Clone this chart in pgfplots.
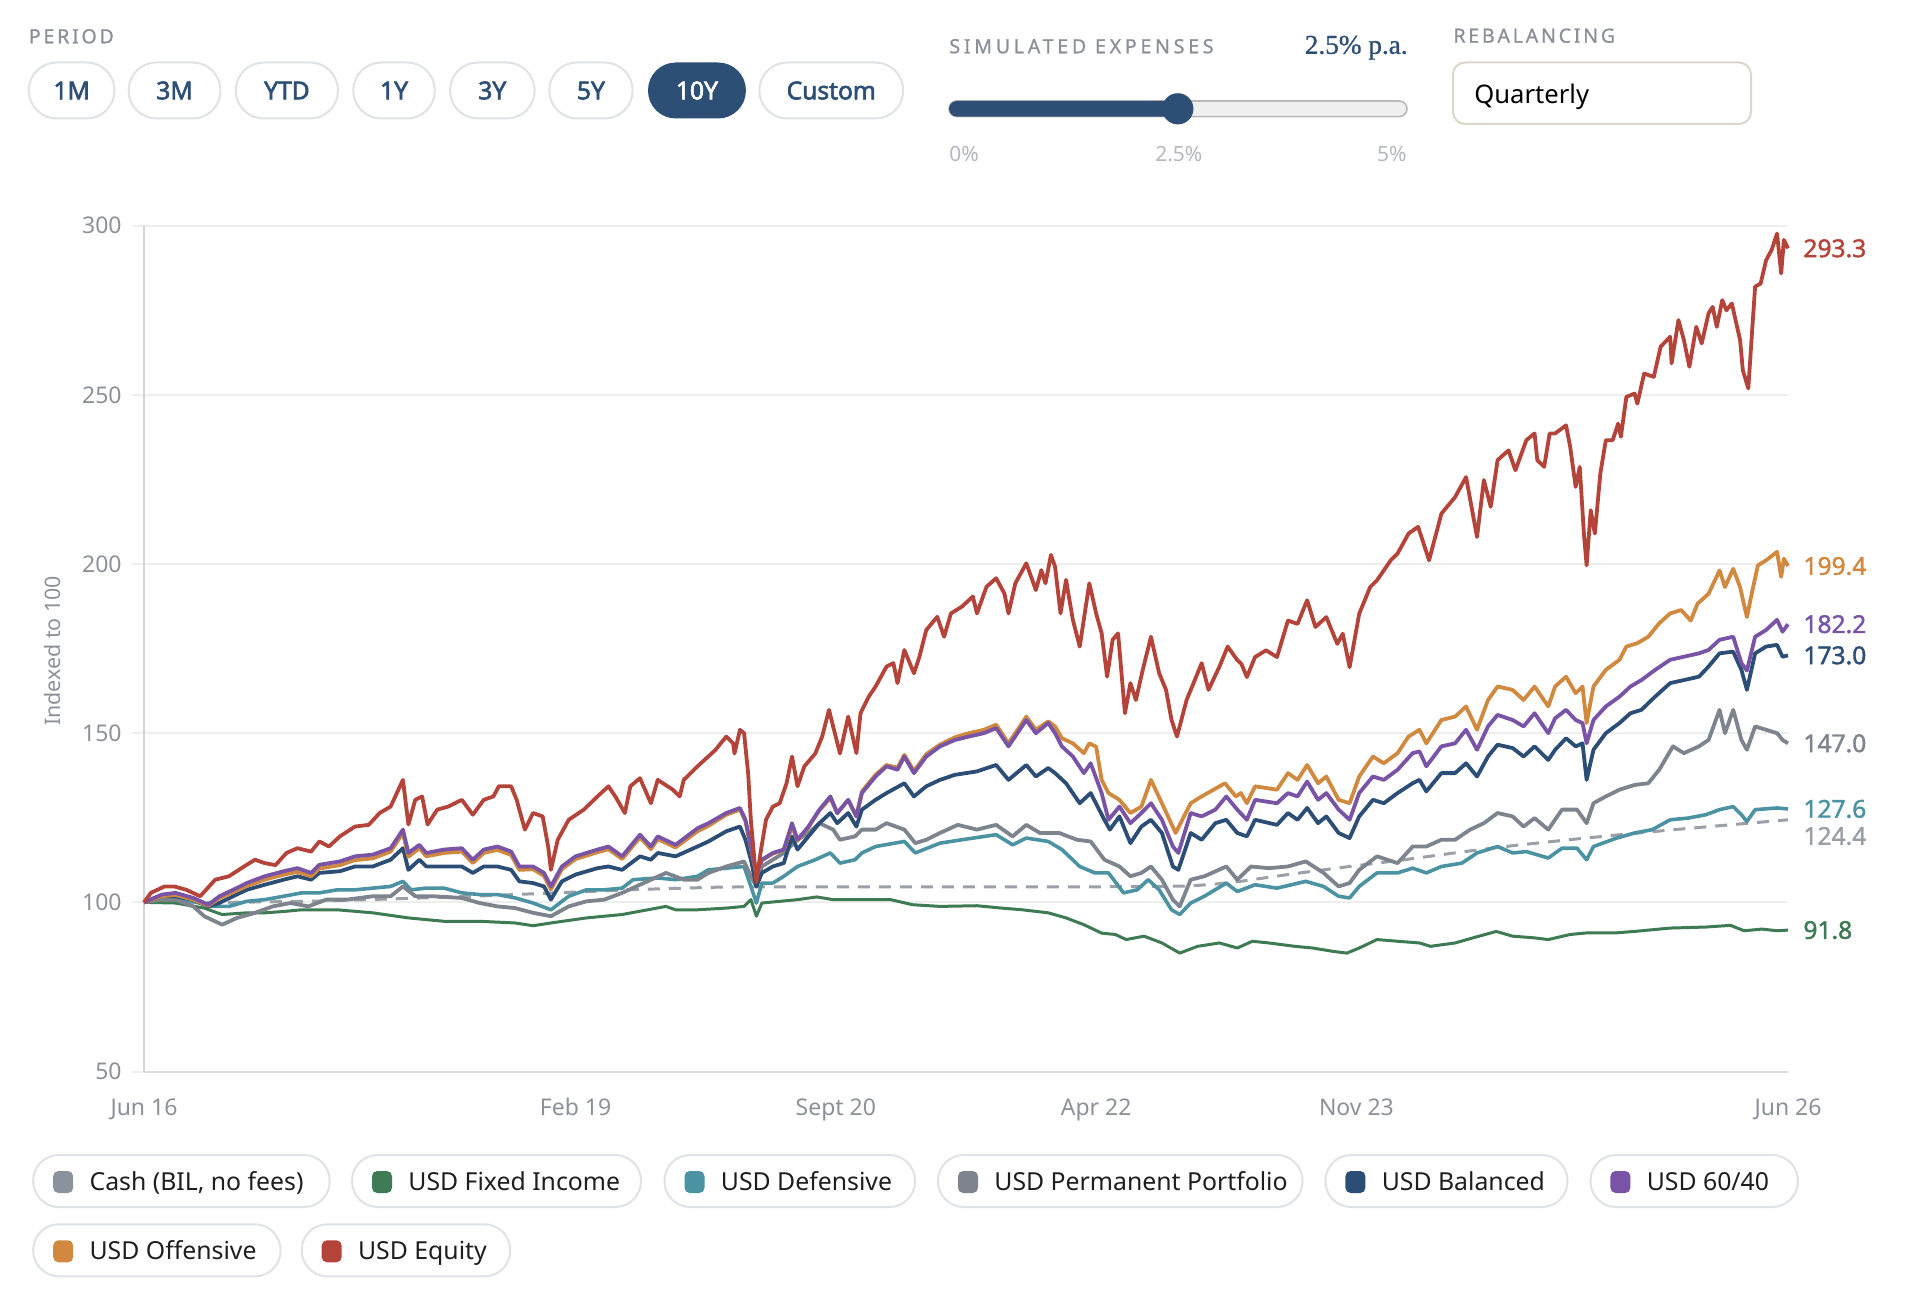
\documentclass[border=0pt]{standalone}
\usepackage{fontspec}
\setmainfont{Noto Sans}
\newfontfamily\capsfont[LetterSpace=14, FakeBold=0.8]{Noto Sans}
\newfontfamily\capsfontwide[LetterSpace=19, FakeBold=0.8]{Noto Sans}
\newfontfamily\btnfont[FakeBold=2.4]{Noto Sans}
\newfontfamily\valfont[FakeBold=1.6]{Noto Sans}
\newfontfamily\seriffont[FakeBold=1]{Liberation Serif}
\usepackage{pgfplots}
\usepackage{pgfplotstable}
\pgfplotsset{compat=1.18}

% series colours
\definecolor{cEq}{HTML}{B4433A}
\definecolor{cOff}{HTML}{D0893F}
\definecolor{cSixty}{HTML}{7954A6}
\definecolor{cBal}{HTML}{2B4D76}
\definecolor{cPerm}{HTML}{7E848E}
\definecolor{cDef}{HTML}{4B92A2}
\definecolor{cFix}{HTML}{3E7A53}
\definecolor{cCash}{HTML}{9A9FA8}
\definecolor{cCashKey}{HTML}{8C929C}
% interface colours
\definecolor{navyui}{HTML}{2D4F76}
\definecolor{labelgray}{HTML}{8A8F98}
\definecolor{tickgray}{HTML}{8C9199}
\definecolor{lightlabel}{HTML}{B4B8BE}
\definecolor{pillborder}{HTML}{DFE2E7}
\definecolor{gridgray}{HTML}{EEEEEE}
\definecolor{axisgray}{HTML}{DCDCDC}
\definecolor{boxborder}{HTML}{DAD6CA}
\definecolor{trackfill}{HTML}{EFEFEF}
\definecolor{trackedge}{HTML}{B9B9B9}
\definecolor{keytext}{HTML}{1E1E1E}

% x = months since June 2016, v = value indexed to 100
\pgfplotstableread{
m v
0 100
0.5 102.8
1.5 104.7
2.2 104.7
3.1 103.7
4.1 101.8
5.2 106.7
6.2 107.7
7.3 110.6
8.1 112.6
8.8 111.6
9.6 111
10.4 114.6
11.2 116
12.2 115
12.8 118
13.5 116.5
14.3 119.5
15.4 122.4
16.4 122.9
17.2 126.4
18 128.3
18.9 136.2
19.3 123
19.8 130.3
20.3 131.3
20.7 123
21.4 127.4
22.2 128.3
23.2 130.3
24 125.9
24.8 130.3
25.5 131.3
25.9 134.3
26.8 134.3
27.2 130.3
27.8 121.5
28.4 126.4
29.1 125.4
29.5 116.5
29.7 109.6
30.2 118.5
31 124.4
32.1 127.4
33.1 131.3
33.9 134.3
34.4 131.3
35.1 126.4
35.5 134.3
36.2 136.7
37 129.3
37.5 136.2
38.6 133.3
39.1 131.3
39.4 136.2
40.4 140.2
41.7 145
42.5 149
43 147
43.1 144
43.5 151
43.8 150
44.1 138
44.3 124
44.7 106
45 114.6
45.4 124.4
45.9 128.3
46.4 129.3
46.9 135.2
47.3 143.1
47.7 134.3
48.2 140.2
49 144
49.5 149
50 156.9
50.3 152
50.8 144
51.4 154.9
52 144.1
52.3 155.9
52.9 160.8
53.4 163.8
54.2 169.7
54.7 170.7
55 164.8
55.5 174.6
56.2 167.7
56.6 172.6
57.1 180.5
57.9 184.4
58.4 178.5
58.9 185.4
59.7 187.4
60.5 190.4
60.8 185.4
61.5 193.3
62.2 195.8
62.8 191.3
63.1 185.4
63.6 194.3
64.4 200.2
65.1 192.3
65.5 198.2
65.8 194.3
66.2 202.7
66.5 199.2
66.9 185.4
67.3 195.3
67.8 183.5
68.3 175.6
69 194.3
69.5 185.4
69.9 179.5
70.3 166.7
70.7 177.6
71.1 179.5
71.6 155.9
72 164.8
72.4 159.8
72.9 168.7
73.5 178.5
74.1 167.7
74.6 162.8
75 153.9
75.4 149
76.1 159.8
76.7 165.7
77.2 170.7
77.7 162.8
78.5 169.7
79.1 175.6
79.8 171.6
80.1 170.5
80.5 166.6
81.1 172.5
81.9 174.5
82.7 172.5
83.5 183.3
84.2 182.3
84.9 189.3
85.5 181.4
86.3 184.3
87.1 176.4
87.5 179.4
88 169.5
88.7 185.3
89.5 193.2
90 195.2
91 201.1
91.5 203.1
92.3 209
93 211
93.8 201.1
94.7 214.9
95.7 219.8
96.5 225.7
97.3 208
97.8 224.8
98.3 216.9
98.8 230.7
99.6 233.6
100.1 227.7
100.9 236.6
101.5 238.6
101.7 230.7
102.2 228.7
102.6 238.6
103 238.6
103.8 241
104.1 234.6
104.5 222.8
104.8 228.7
105.1 209
105.3 199.6
105.6 215.9
105.9 209
106.3 226.7
106.7 236.6
107.2 236.6
107.6 241.5
107.8 237.6
108.2 249.4
108.8 250.4
109 247.4
109.5 256.3
110.2 255.3
110.7 264.2
111.4 267.2
111.5 259.3
112 272.1
112.4 266.2
112.8 258.3
113.3 270.1
113.7 265.2
114.2 274.1
114.5 276
114.8 270.1
115.2 278
115.5 275
115.9 277
116.5 266.2
116.7 257.3
117.1 251.9
117.4 270.1
117.6 282
118 282.9
118.4 289.8
118.8 292.8
119.2 297.7
119.5 285.9
119.7 295.8
120 293.3
}\tEquity

\pgfplotstableread{
m v
0 100
1.3 101.8
2.3 102.2
3.6 100.8
4.7 99
5.5 101.2
6.5 103
7.5 104.8
8.8 106.7
10.2 108.2
11.2 109
12.2 107.7
12.8 110
14.3 111
15.4 112.5
16.7 113
18 115
18.9 120.5
19.3 113.5
20.1 116
20.6 113.6
21.9 114.6
23.2 115
24 111.6
24.8 114.6
25.8 115.5
26.8 114
27.4 109.6
28.4 109.8
29.2 107.8
29.7 103.8
30.5 109.8
31.5 112.8
33.1 114.8
33.9 115.7
34.9 112.8
36.2 119.2
37 115.7
37.5 118.7
38.8 116.2
40.4 121
41.2 122.6
42.5 125.9
43.5 127.4
43.9 124
44.3 116
44.7 108.5
45.1 112.4
45.9 114.4
46.7 115.5
47.3 122.4
47.7 118.3
48.5 122.2
49.3 127.2
50.1 130.8
50.6 126.3
51.4 130.2
52 125.5
52.4 132.8
53.4 137.7
54.2 140.6
55 139.8
55.5 143.6
56.2 138.8
57.1 143.8
58.1 146.6
59.2 148.8
60.2 150
61.3 151
62.2 152.5
63.1 147
64.4 154.9
65.1 151
66 153.5
66.5 152
67 148.5
67.8 147
68.6 144.1
69 147
69.5 146
69.9 136.2
70.4 132.3
71.2 130.3
72 126.4
72.8 128.3
73.5 136.2
74.3 129.3
75.3 120.5
76.4 129.3
77.2 131.3
78.9 135.2
79.7 131.3
80.06 132.3
80.5 129.3
81.1 134.3
82.7 133.3
83.5 138.2
84.2 136.2
84.9 140.6
85.7 135.2
86.3 137.2
87.2 130.3
88 129.3
88.7 137.2
89.7 143.1
90.5 141.1
91.5 144.1
92.3 149
93.1 151
93.6 147
94.7 153.9
95.7 154.9
96.5 157.9
97.3 151
98.1 159.8
98.8 163.8
99.9 162.8
100.7 159.8
101.5 163.8
102.5 157.9
103 163.8
103.8 166.7
104.5 161.8
105 163.8
105.3 153
105.8 163.8
106.7 168.7
107.7 171.7
108.2 175.6
109 176.6
109.8 178.5
110.6 182.5
111.4 185.4
112.2 186.4
112.9 183.3
113.4 188.3
114.2 191.2
115 198.1
115.4 193.2
116 198.6
116.5 193.2
117 184.3
117.4 192.2
117.8 199.6
118.4 201.1
119.2 203.6
119.5 196.2
119.7 201.6
120 199.4
}\tOffensive

\pgfplotstableread{
m v
0 100
1.3 102.3
2.3 102.8
3.6 101.3
4.7 99.3
5.5 101.8
6.5 103.7
7.5 105.7
8.8 107.7
10.2 109.2
11.2 110.1
12.2 108.7
12.8 111.1
14.3 112.1
15.4 113.6
16.7 114.1
18 116
18.9 121.5
19.3 114.6
20.1 117
20.6 114.6
21.9 115.6
23.2 116
24 112.6
24.8 115.6
25.8 116.5
26.8 115
27.4 110.6
28.4 110.6
29.2 108.7
29.7 104.7
30.5 110.6
31.5 113.6
33.1 115.6
33.9 116.5
34.9 113.6
36.2 120
37 116.5
37.5 119.5
38.8 117
40.4 121.9
41.2 123.4
42.5 126.4
43.5 127.9
43.9 124.4
44.3 116.5
44.7 108.7
45.1 112.6
45.9 114.6
46.7 115.6
47.3 123.4
47.7 118.5
48.5 122.4
49.3 127.4
50.1 131.3
50.6 126.4
51.4 130.3
52 125.4
52.4 132.3
53.4 137.2
54.2 140.2
55 139.2
55.5 143.1
56.2 138.2
57.1 143.1
58.1 146.1
59.2 148
60.2 149
61.3 150
62.2 151.5
63.1 146.1
64.4 153.9
65.1 150
66 153
66.5 150
67 146.1
67.8 143.1
68.6 138.2
69.1 141.1
69.9 132.3
70.4 124.4
71.2 128.3
72 123.4
72.8 126.4
73.5 129.3
74.3 124.4
75.1 116.5
75.5 114.6
76.4 126.4
77.2 125.4
78.2 127.4
79 131.3
79.8 127.4
80.5 124.4
81.1 130.3
82.7 129.3
83.5 132.3
84.2 131.3
84.9 135.7
85.7 130.3
86.3 132.3
87.2 127.4
88 124.4
88.7 132.3
89.7 137.2
90.5 136.2
91.5 139.2
92.6 144.1
93.1 144.6
93.6 140.2
94.7 146.1
95.7 147
96.5 151
97.3 145.1
98.1 152
98.8 155.4
99.9 153.9
100.7 152
101.5 155.9
102.5 150
103 154.4
103.8 156.9
104.5 153.9
105 153
105.3 147
105.8 153.9
106.7 157.9
107.7 160.8
108.5 163.8
109.3 165.7
110.3 168.7
111.4 171.7
112.4 172.6
113.5 173.6
114.2 174.6
115 177.6
116 178.5
116.6 170.7
117 168.5
117.6 178.5
118.4 180.5
119.2 183.5
119.6 180
120 182.2
}\tSixty

\pgfplotstableread{
m v
0 100
1.3 101.8
2.3 101.8
3.6 100.8
4.7 98.8
5.5 99.8
6.5 101.8
7.5 103.7
8.8 105.2
10.2 106.7
11.2 107.7
12.2 106.7
12.8 108.7
14.3 109.2
15.4 110.6
16.7 110.6
18 112.6
18.9 116
19.3 109.6
20.1 112.6
20.6 110.6
21.9 110.6
23.2 110.6
24 108.7
24.8 110.6
25.8 110.6
26.8 109.6
27.4 106.2
28.4 105.7
29.2 104.7
29.7 100.8
30.5 106.2
31.5 108.2
33.1 110.1
33.9 110.6
34.9 109.6
36.2 113.6
37 112.6
37.5 114.6
38.8 113.6
40.4 116.5
41.2 118
42.5 121
43.5 122.4
43.9 118.5
44.3 112.6
44.7 104.7
45.1 108.7
45.9 110.6
46.7 111.6
47.3 119.5
47.7 115.6
48.5 119.5
49.3 123.4
50.1 126.4
50.6 123.4
51.4 126.4
52 122.4
52.4 127.4
53.4 130.3
54.2 132.3
55.5 135.2
56.2 131.3
57.1 134.3
58.1 136.2
59.2 137.7
60.8 138.7
62.2 140.6
63.1 136.2
64.4 140.6
65.1 137.2
66 139.7
66.5 138.2
67.3 135.2
68.3 129.3
69.1 132.3
70.1 124.4
70.5 121.5
71.2 125.4
72 117.5
72.8 122.4
73.5 124.4
74.3 120.5
75.1 110.6
75.5 109.6
76.4 120.5
77.2 118.5
78.2 123.4
79 124.4
79.8 120.5
80.5 119.5
81.1 124.4
82.7 122.9
83.5 126.4
84.2 124.4
84.9 127.9
85.7 123.4
86.3 125.4
87.2 120.5
88 119
88.7 125.4
89.7 130.3
90.5 129.3
91.5 132.3
92.6 135.2
93.1 136.2
93.6 132.8
94.7 138.2
95.7 138.2
96.5 141.1
97.3 137.2
98.1 143.1
98.8 146.6
99.9 145.6
100.7 143.1
101.5 146.1
102.5 142.1
103 145.1
103.8 148.5
104.5 146.1
105 147
105.3 136.2
105.8 145.1
106.7 150
107.7 153
108.5 155.9
109.3 156.9
110.3 160.8
111.4 164.8
112.4 165.7
113.5 166.7
114.2 169.7
115 173.6
116 174.1
116.6 168.7
117 162.8
117.6 173.6
118.4 175.6
119.2 176.1
119.6 172.6
120 173
}\tBalanced

\pgfplotstableread{
m v
0 100
1.3 100.8
2.3 100.8
3.6 98.8
4.4 95.9
5.7 93.4
6.8 95.4
8.1 96.9
9.4 98.8
10.7 99.8
12 98.8
13.3 100.8
14.8 100.8
16.7 101.8
18 101.8
18.9 104.7
19.8 101.8
21.1 101.8
23.2 101.3
24.5 99.8
25.8 98.8
27.1 98.3
28.4 96.9
29.7 95.9
31 98.8
32.3 100.3
33.6 100.8
34.9 102.8
36.2 105.2
38.1 108.7
39.4 106.7
40.4 106.7
41.2 108.7
42.5 110.6
43.8 112.1
44.3 107.7
44.7 104.7
45.1 110.6
45.9 112.6
46.7 114.6
47.7 118.5
48.5 120.5
49.3 123.4
50.3 121.5
50.8 118.5
51.9 119.5
52.4 121.5
53.4 121.5
54.2 123.4
55.5 121.5
56.3 117.5
57.1 118.5
58.1 120.5
59.4 122.9
60.8 121.5
62.2 122.9
63.4 119.5
64.4 122.9
65.4 120.5
66.8 120.5
68.1 118.5
69.1 118
70.1 112.6
71.2 110.6
72 107.7
72.8 108.7
73.5 110.6
74.3 106.7
75.1 100.8
75.6 98.8
76.4 106.7
77.4 107.7
79 110.6
79.8 106.7
80.8 110.6
82.1 110.1
83.5 110.6
84.8 112.1
86.1 108.7
87.2 104.7
88 105.7
88.7 109.6
90 113.6
91.5 111.6
92.6 116.5
93.6 116.5
94.7 118.5
95.7 118.5
96.8 121.5
97.8 123.4
98.8 126.4
99.9 125.4
100.7 122.4
101.5 124.9
102.5 121.5
103.5 127.4
104.6 127.4
105.3 123.4
105.8 129.3
106.7 131.3
107.7 133.3
108.8 134.7
109.8 135.2
110.6 139.2
111.6 146.1
112.4 144.1
113.5 146.1
114.2 148
115 156.9
115.4 150
116 156.9
116.6 148
117 145.1
117.6 152
118.4 151
119.2 150
119.6 148
120 147
}\tPermanent

\pgfplotstableread{
m v
0 100
1.3 101.3
2.3 101.3
3.6 100.3
4.9 98.8
6.2 98.8
7.5 100.3
8.8 100.8
10.2 101.8
11.5 102.8
12.8 102.8
14.1 103.7
15.4 103.7
16.7 104.2
18 104.7
18.9 106.2
19.5 103.7
20.6 104.2
21.9 104.2
23.2 102.8
24.5 102.3
25.8 102.3
27.1 101.3
28.4 99.8
29.7 97.8
31 101.8
32.3 103.7
33.6 103.7
34.9 104.2
35.7 106.7
37.5 107.2
38.8 106.7
40.4 107.7
41.2 109.6
42.5 110.1
43.8 110.6
44.3 104.7
44.7 99.8
45.1 105.7
45.9 105.7
46.7 107.7
47.7 110.6
49 112.6
50.1 114.6
50.8 111.6
51.9 112.6
52.4 114.6
53.4 116.5
55.5 118
56.3 114.6
58.1 117.5
59.7 118.5
62.2 120
63.4 117
64.4 119
66 118
67 115.6
68.3 110.6
69.4 108.7
70.4 108.7
71.5 102.8
72.5 103.7
73.3 106.7
74.1 103.7
75 97.8
75.6 96.4
76.4 99.8
77.4 101.8
79 105.7
79.8 103.2
81.1 105.2
82.7 104.2
84.8 106.2
86.1 104.7
87.2 101.8
88 101.3
88.7 104.7
90 108.7
91.5 108.7
92.6 110.1
93.6 108.7
94.7 110.6
96.2 111.6
97.3 114.6
98.8 116.5
99.9 114.6
100.9 115
102.5 113.1
103.5 116
104.6 116
105.3 112.6
105.8 116.5
107.5 119
108.8 120.5
110.1 121.5
111.4 124.4
112.7 124.9
114 125.9
115 127.4
116 128.3
116.6 125.9
117 123.9
117.6 127.4
119.2 127.9
120 127.6
}\tDefensive

\pgfplotstableread{
m v
0 100
2.3 99.8
4.4 98.3
5.7 96.4
7.5 96.9
8.8 96.9
10.2 97.3
11.5 97.8
14.1 97.8
16.7 96.9
19.3 95.4
21.9 94.4
24.5 94.4
27.1 93.9
28.4 93.1
29.7 93.9
32.3 95.4
34.9 96.4
38.1 98.8
38.8 97.8
40.4 97.8
42.5 98.3
43.8 98.8
44.3 100.8
44.7 95.9
45.1 99.8
46.4 100.3
47.7 100.8
49.1 101.6
50.3 100.8
52.9 100.8
54.5 100.8
56.1 99.3
58.1 98.8
60.8 99
62.6 98.3
64.1 97.8
66 96.9
67.3 95.4
68.6 93.4
69.9 90.9
70.9 90.5
71.7 89
73 90
74.3 88
75.6 85
76.9 87
78.5 88
79.8 86.5
80.9 88.5
82.1 88
84 87
85.3 86.5
86.8 85.5
87.8 85
88.7 86.5
90 89
91.5 88.5
93.1 88
93.9 87
95.7 88
97 89.5
98.7 91.4
99.9 90
101.5 89.5
102.5 89
104.1 90.5
105.4 91
107.5 91
108.8 91.4
111.4 92.4
114 92.7
115.8 93.2
116.8 91.6
118.1 92.1
119.2 91.6
120 91.8
}\tFixed

\pgfplotstableread{
m v
0 100
6 100
12 100.3
18 101
24 101.8
30 102.8
36 103.8
42 104.5
45 104.6
60 104.6
70 104.6
76 104.8
78 105.3
80 106.2
84 108.5
88 110.6
92 112.6
96 114.8
100 116.8
104 118.5
108 120.1
112 121.6
116 123
120 124.4
}\tCash

% interface helpers (pixel-like units inside the overlay scope)
\newcommand{\btn}[3]{%
  \draw[pillborder, line width=1pt, fill=white, rounded corners=13.9pt] (#1,62.5) rectangle (#2,118.5);
  \node[anchor=base, inner sep=0pt, font=\btnfont\fontsize{12.3}{14}\selectfont, text=navyui] at ({(#1+#2)/2},99.3) {#3};}
\newcommand{\keypill}[5]{%
  \draw[pillborder, line width=1pt, fill=white, rounded corners=12.8pt] (#1,#3) rectangle (#2,#3+52);
  \fill[#4, rounded corners=2.6pt] (#1+20,#3+16) rectangle (#1+40,#3+38);
  \node[anchor=base west, inner sep=0pt, font=\fontsize{12.4}{14}\selectfont, text=keytext] at (#1+56,#3+35.5) {#5};}

\begin{document}
\begin{tikzpicture}
\path[use as bounding box] (0,0) rectangle (963pt,657pt);

\begin{axis}[
  at={(72pt,121.25pt)}, anchor=south west,
  scale only axis, width=822pt, height=422.9pt,
  xmin=0, xmax=120, ymin=50, ymax=300,
  clip=false,
  axis x line*=bottom, axis y line*=left,
  x axis line style={draw=axisgray, line width=1pt, -},
  y axis line style={draw=gridgray!90!black!100, line width=1pt, -},
  ytick={50,100,150,200,250,300},
  xtick={0,31.5,50.5,69.5,88.5,120},
  xticklabels={Jun 16, Feb 19, Sept 20, Apr 22, Nov 23, Jun 26},
  ymajorgrids, grid style={draw=gridgray, line width=1pt},
  tick align=outside, major tick length=6pt,
  ytick style={draw=gridgray, line width=1pt},
  xtick style={draw=none},
  /pgf/number format/assume math mode=true,
  yticklabel style={font=\fontsize{11.5}{13}\selectfont, text=tickgray, anchor=east, inner sep=0pt, xshift=-5pt},
  xticklabel style={font=\fontsize{11.5}{13}\selectfont, text=tickgray, anchor=base, inner sep=0pt, yshift=-15.9pt},
]
\addplot[cCash, line width=1.5pt, dash pattern=on 6pt off 4.5pt] table[x=m,y=v] {\tCash};
\addplot[cFix, line width=1.5pt, line join=round] table[x=m,y=v] {\tFixed};
\addplot[cDef, line width=1.8pt, line join=round] table[x=m,y=v] {\tDefensive};
\addplot[cPerm, line width=1.9pt, line join=round] table[x=m,y=v] {\tPermanent};
\addplot[cBal, line width=1.9pt, line join=round] table[x=m,y=v] {\tBalanced};
\addplot[cOff, line width=1.9pt, line join=round] table[x=m,y=v] {\tOffensive};
\addplot[cSixty, line width=1.9pt, line join=round] table[x=m,y=v] {\tSixty};
\addplot[cEq, line width=1.9pt, line join=round] table[x=m,y=v] {\tEquity};

% closing values
\begin{scope}[every node/.style={anchor=west, inner sep=0pt, xshift=7.5pt, font=\valfont\fontsize{12.3}{14}\selectfont}]
\node[text=cEq] at (axis cs:120,293.3) {293.3};
\node[text=cOff] at (axis cs:120,199.4) {199.4};
\node[text=cSixty] at (axis cs:120,182.2) {182.2};
\node[text=cBal] at (axis cs:120,173.0) {173.0};
\node[text=cPerm] at (axis cs:120,147.0) {147.0};
\node[text=cDef] at (axis cs:120,127.6) {127.6};
\node[text=cCash] at (axis cs:120,119.6) {124.4};
\node[text=cFix] at (axis cs:120,91.8) {91.8};
\end{scope}
\end{axis}

\begin{scope}[yshift=657pt, x=0.5pt, y=-0.5pt]
% axis title
\node[rotate=90, inner sep=0pt, font=\fontsize{10.7}{12}\selectfont, text=tickgray] at (52.8,651) {Indexed to 100};

% period selector
\node[anchor=base west, inner sep=0pt, font=\capsfont\fontsize{9.8}{12}\selectfont, text=labelgray] at (28.5,43.3) {PERIOD};
\btn{28.8}{114.5}{1M}
\btn{128.6}{220.5}{3M}
\btn{235.8}{338}{YTD}
\btn{353.3}{434.8}{1Y}
\btn{450}{534.6}{3Y}
\btn{549.3}{632.6}{5Y}
\fill[navyui, rounded corners=13.9pt] (648,62.5) rectangle (745.9,118.5);
\node[anchor=base, inner sep=0pt, font=\btnfont\fontsize{12.3}{14}\selectfont, text=white] at (696.95,99.3) {10Y};
\btn{759.3}{903.2}{Custom}

% expenses slider
\node[anchor=base west, inner sep=0pt, font=\capsfontwide\fontsize{9.8}{12}\selectfont, text=labelgray] at (949,53.3) {SIMULATED EXPENSES};
\node[anchor=base east, inner sep=0pt, font=\seriffont\fontsize{13.6}{15}\selectfont, text=navyui] at (1408,53.8) {2.5\% p.a.};
\draw[trackedge, line width=0.8pt, fill=trackfill, rounded corners=3.9pt] (949,101) rectangle (1407,116.6);
\fill[navyui, rounded corners=3.9pt] (949,101) rectangle (1180,116.6);
\fill[navyui] (1177.8,108.8) circle[radius=7.8pt];
\node[anchor=base west, inner sep=0pt, font=\fontsize{10.5}{12}\selectfont, text=lightlabel] at (949,161.5) {0\%};
\node[anchor=base, inner sep=0pt, font=\fontsize{10.5}{12}\selectfont, text=lightlabel] at (1178.8,161.5) {2.5\%};
\node[anchor=base east, inner sep=0pt, font=\fontsize{10.5}{12}\selectfont, text=lightlabel] at (1407,161.5) {5\%};

% rebalancing selector
\node[anchor=base west, inner sep=0pt, font=\capsfont\fontsize{9.8}{12}\selectfont, text=labelgray] at (1453,42.7) {REBALANCING};
\draw[boxborder, line width=1pt, fill=white, rounded corners=6pt] (1453,62.5) rectangle (1751,124);
\node[anchor=base west, inner sep=0pt, font=\fontsize{12.8}{14}\selectfont, text=black] at (1474,103.3) {Quarterly};

% series key
\keypill{33.2}{329.7}{1155}{cCashKey}{Cash (BIL, no fees)}
\keypill{352}{641}{1155}{cFix}{USD Fixed Income}
\keypill{664.5}{915}{1155}{cDef}{USD Defensive}
\keypill{938}{1302.5}{1155}{cPerm}{USD Permanent Portfolio}
\keypill{1325.4}{1567.5}{1155}{cBal}{USD Balanced}
\keypill{1590.4}{1797.9}{1155}{cSixty}{USD 60/40}
\keypill{33.2}{280.6}{1224.3}{cOff}{USD Offensive}
\keypill{301.7}{510.2}{1224.3}{cEq}{USD Equity}
\end{scope}
\end{tikzpicture}
\end{document}
